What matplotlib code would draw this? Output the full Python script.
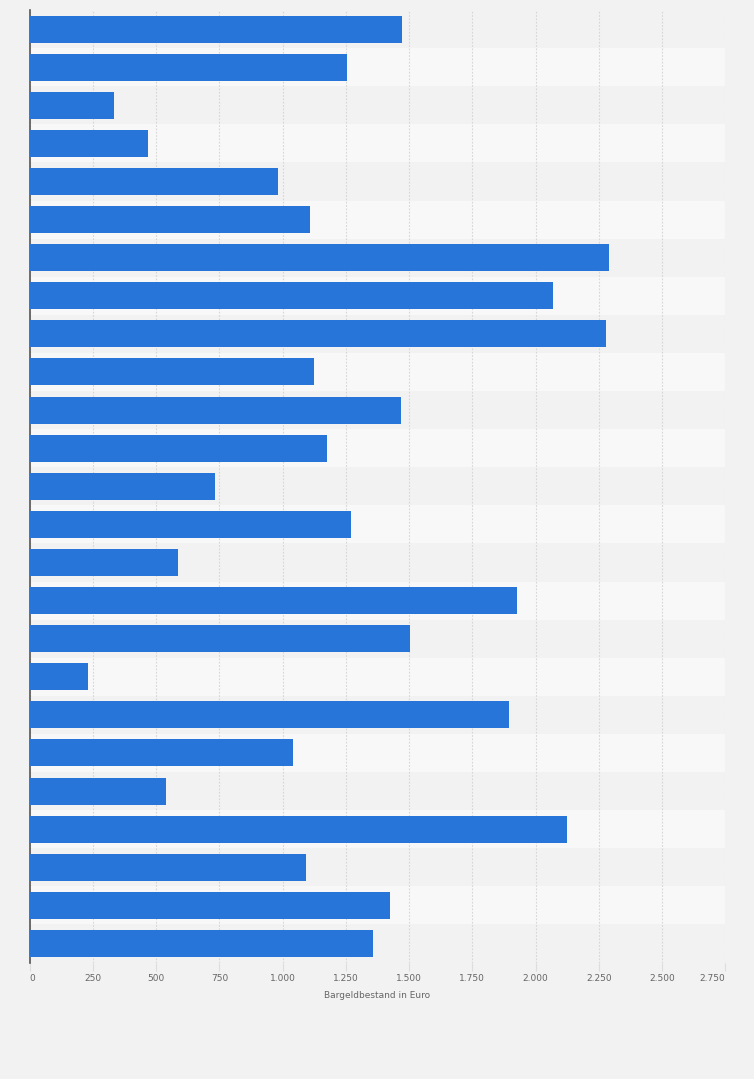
import matplotlib
matplotlib.use("Agg")
import matplotlib.pyplot as plt
from matplotlib.ticker import FuncFormatter

values = [1471, 1253, 334, 469, 983, 1110, 2289, 2068, 2278, 1125, 1466, 1177,
          734, 1272, 588, 1926, 1505, 231, 1894, 1039, 539, 2123, 1094, 1426, 1359]
x_ticks = [0, 250, 500, 750, 1000, 1250, 1500, 1750, 2000, 2250, 2500, 2750]
x_label = "Bargeldbestand in Euro"

bg = "#f2f2f2"
fig = plt.figure(figsize=(7.54, 10.79), dpi=100, facecolor=bg)
ax = fig.add_axes([29.7/754, (1079-962.5)/1079, (725.3-29.7)/754, (962.5-10)/1079])
ax.set_facecolor(bg)

n = len(values)
for i in range(n):
    ax.axhspan(i - 0.5, i + 0.5, color=("#f2f2f2" if i % 2 == 0 else "#f8f8f8"), zorder=0, lw=0)

ax.barh(range(n), values, height=0.71, color="#2775d9", zorder=3, lw=0)
ax.set_ylim(n - 0.5, -0.5)
ax.set_xlim(0, 2750)
ax.set_xticks(x_ticks)
ax.xaxis.set_major_formatter(FuncFormatter(lambda v, p: f"{int(v):,}".replace(",", ".")))
ax.grid(axis="x", color="#d6d6d6", linestyle=(0, (1.5, 1.5)), lw=0.8, zorder=1)
ax.set_yticks([])
for s in ["top", "right", "bottom"]:
    ax.spines[s].set_visible(False)
ax.spines["left"].set_color("#555555")
ax.spines["left"].set_linewidth(1.2)
ax.tick_params(axis="x", length=6, color="#dddddd", labelsize=6.5, labelcolor="#666666", pad=2)
labels = ax.get_xticklabels()
labels[0].set_ha("left")
labels[-1].set_ha("right")
ax.set_xlabel(x_label, fontsize=6.5, color="#666666", labelpad=6)

fig.savefig("out.png", dpi=100, facecolor=bg)
